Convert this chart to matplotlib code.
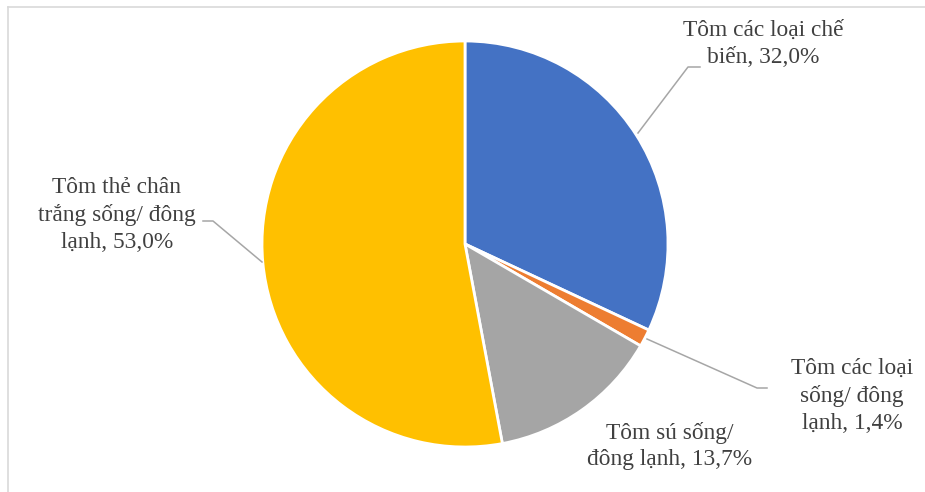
import matplotlib.pyplot as plt
from matplotlib.lines import Line2D

# data
labels = ["Tôm các loại chế\nbiến, 32,0%",
          "Tôm các loại\nsống/ đông\nlạnh, 1,4%",
          "Tôm sú sống/\nđông lạnh, 13,7%",
          "Tôm thẻ chân\ntrắng sống/ đông\nlạnh, 53,0%"]
shares = [32.0, 1.4, 13.7, 53.0]
colors = ["#4472C4", "#ED7D31", "#A5A5A5", "#FFC000"]

W, H = 925, 492
fig = plt.figure(figsize=(W / 100, H / 100), dpi=100)
ax = fig.add_axes([0, 0, 1, 1])
ax.axis("off")


def py(y):
    """pixel row -> data y"""
    return H - y


ax.pie(shares, colors=colors, startangle=90, counterclock=False,
       center=(465, py(244)), radius=203, normalize=True,
       wedgeprops=dict(edgecolor="white", linewidth=2.0))
ax.set_aspect("equal")
ax.set_xlim(0, W)
ax.set_ylim(0, H)

# label placements (pixel centres) and leader lines
label_pos = [(763, 44), (852, 396), (670, 446), (117, 215)]
leaders = [[(638, 133), (688, 67), (700, 67)],
           [(647, 339), (757, 388), (767, 388)],
           None,
           [(262, 262), (213, 221), (203, 221)]]

for text, (x, y), lead in zip(labels, label_pos, leaders):
    ax.text(x, py(y), text, ha="center", va="center", fontsize=16.8,
            family="Liberation Serif", color="#404040", linespacing=1.37)
    if lead:
        xs = [p[0] for p in lead]
        ys = [py(p[1]) for p in lead]
        ax.plot(xs, ys, color="#A6A6A6", linewidth=1.1)

# light frame on the top and left edges
fig.add_artist(Line2D([8 / W, 1], [1 - 7 / H, 1 - 7 / H],
                      transform=fig.transFigure, color="#D9D9D9", lw=1.2))
fig.add_artist(Line2D([8 / W, 8 / W], [0, 1 - 7 / H],
                      transform=fig.transFigure, color="#D9D9D9", lw=1.2))

fig.savefig("out.png", dpi=100, facecolor="white")
